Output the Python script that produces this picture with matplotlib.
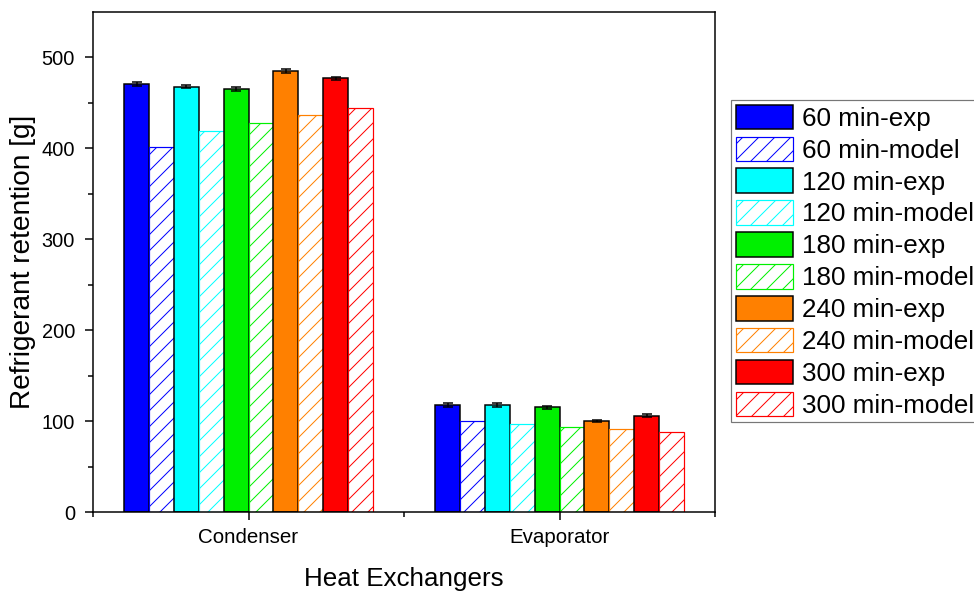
import matplotlib
matplotlib.use("Agg")
import matplotlib.pyplot as plt
import numpy as np

DPI = 48
def px(v):
    """convert pixel size to points at the figure dpi"""
    return v * 72.0 / DPI

plt.rcParams['font.family'] = ['Liberation Sans', 'DejaVu Sans']
plt.rcParams['hatch.linewidth'] = px(1.0)

categories = ["Condenser", "Evaporator"]
times = ["60", "120", "180", "240", "300"]
exp_values = {
    "60": [471, 118],
    "120": [468, 118],
    "180": [465, 115],
    "240": [485, 100],
    "300": [477, 106],
}
model_values = {
    "60": [401, 100],
    "120": [419, 97],
    "180": [428, 94],
    "240": [437, 91],
    "300": [444, 88],
}
exp_errors = {
    "60": [2, 2],
    "120": [2, 2],
    "180": [2, 2],
    "240": [2, 1.5],
    "300": [2, 1.5],
}
colors = ["#0000FF", "#00FFFF", "#00F000", "#FF8000", "#FF0000"]

fig = plt.figure(figsize=(974 / DPI, 591 / DPI), dpi=DPI)
ax = fig.add_axes([93/974, 1-512/591, (715-93)/974, (512-12)/591])

x = np.arange(1, len(categories) + 1)
w = 0.08
for i, t in enumerate(times):
    c = colors[i]
    pos_e = x - 0.4 + w * (2 * i) + w / 2
    pos_m = x - 0.4 + w * (2 * i + 1) + w / 2
    ax.bar(pos_e, exp_values[t], w, color=c, edgecolor="black", linewidth=px(1.5),
           yerr=exp_errors[t], capsize=px(5),
           error_kw=dict(ecolor="black", elinewidth=px(1.5), capthick=px(1.5)),
           label=f"{t} min-exp")
    ax.bar(pos_m, model_values[t], w, facecolor="white", edgecolor=c, hatch="/",
           linewidth=px(1.2), label=f"{t} min-model")

ax.set_xlim(0.5, 2.5)
ax.set_ylim(0, 550)
ax.set_xticks(x)
ax.set_xticklabels(categories)
ax.set_xticks([0.5, 1.5, 2.5], minor=True)
ax.set_yticks([0, 100, 200, 300, 400, 500])
ax.set_yticks(np.arange(50, 550, 100), minor=True)
ax.tick_params(axis="both", which="major", direction="out", length=px(8), width=px(1.5))
ax.tick_params(axis="y", which="major", labelsize=px(20), pad=px(10))
ax.tick_params(axis="x", which="major", labelsize=px(20.5), pad=px(8))
ax.tick_params(axis="both", which="minor", direction="out", length=px(5), width=px(1.5))
for s in ax.spines.values():
    s.set_linewidth(px(1.5))

ax.set_ylabel("Refrigerant retention [g]", fontsize=px(28), labelpad=px(5))
ax.set_xlabel("Heat Exchangers", fontsize=px(26), labelpad=px(20))

leg = ax.legend(loc="upper left", bbox_to_anchor=(731/974, 1-100/591), bbox_transform=fig.transFigure,
                fontsize=px(26), frameon=True, fancybox=False, edgecolor="#555555",
                handlelength=2.2, handleheight=1.08, handletextpad=0.35, labelspacing=0.22,
                borderpad=0.18, borderaxespad=0)
leg.get_frame().set_linewidth(px(1.2))

fig.savefig("out.png", dpi=DPI)
